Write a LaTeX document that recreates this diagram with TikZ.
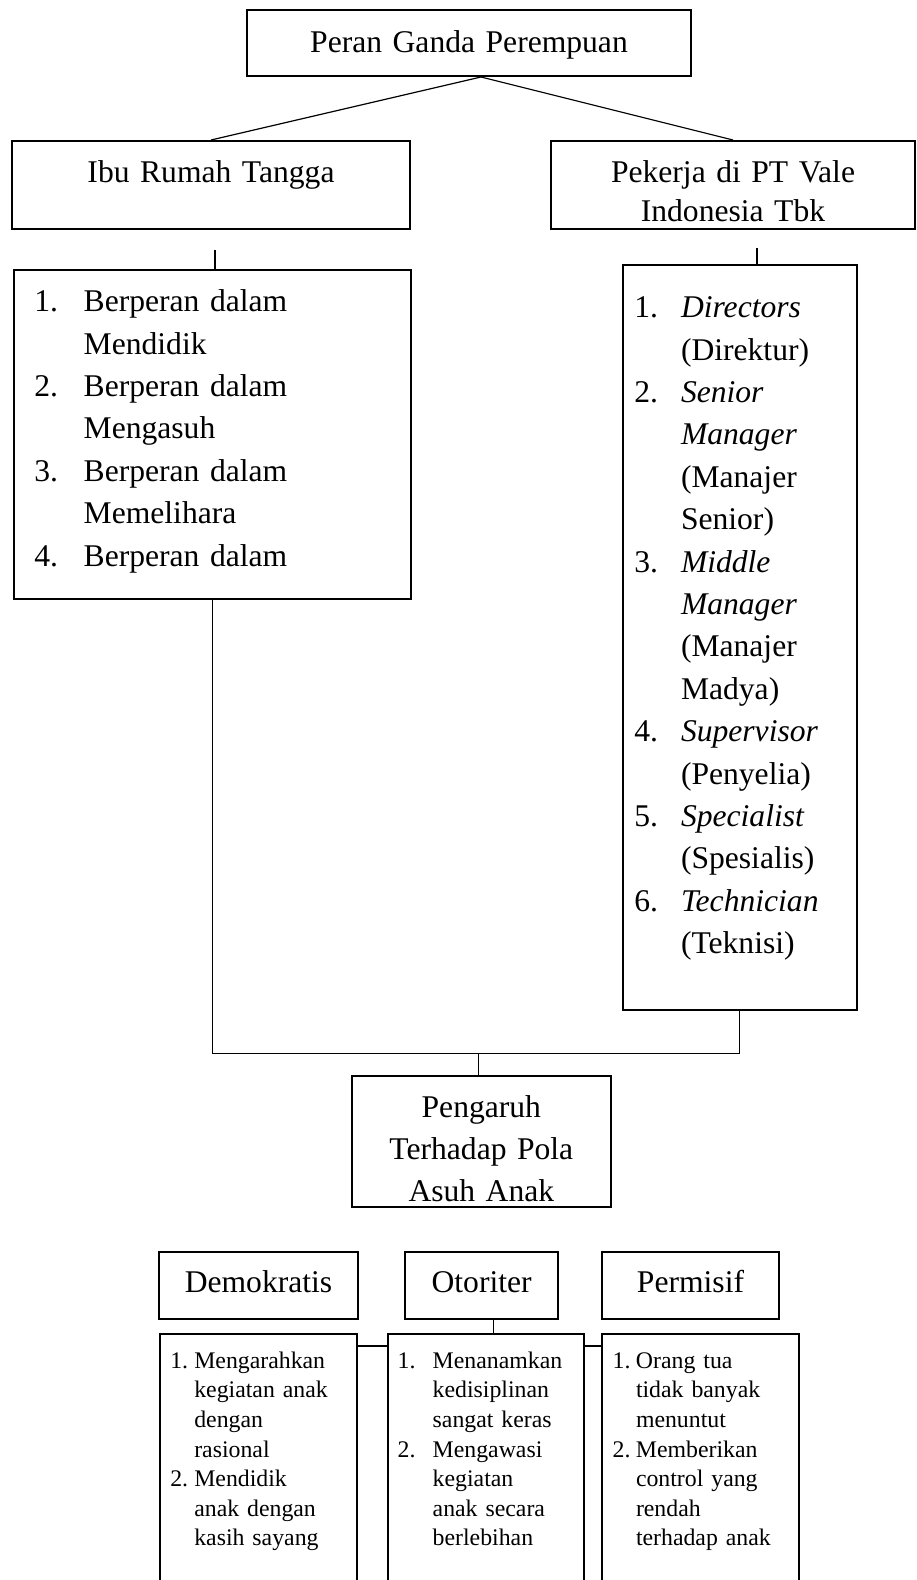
\documentclass[tikz,border=0pt]{standalone}
\usepackage{fontspec}
\setmainfont{Liberation Serif}
\newlength{\numw}
\newcommand{\itemnr}[1]{\makebox[\numw][l]{#1}}

\begin{document}
\begin{tikzpicture}[x=0.5pt, y=-0.5pt,
        box/.style={draw, line width=1pt, inner sep=0pt, anchor=north west,
            font=\fontsize{15.8}{21.2}\selectfont},
        headbox/.style={box, align=center},
        listbox/.style={box, align=left},
        smallbox/.style={listbox, font=\fontsize{11.9}{14.8}\selectfont},
        conn/.style={line width=0.6pt}]
        \useasboundingbox (0,0) rectangle (916,1580);
        \clip (0,0) rectangle (916,1580);

        % Top
        \node[headbox, text width=222pt, text height=21.2pt, text depth=11.65pt] (peran) at (246,9.3) {Peran Ganda Perempuan};

        % Roles
        \node[headbox, text width=199.3pt, text height=20.85pt, text depth=23.3pt] (ibu) at (10.7,140) {Ibu Rumah Tangga};
        \node[headbox, text width=182pt, text height=20.85pt, text depth=23.3pt,
            font=\fontsize{15.8}{19.15}\selectfont] (kerja) at (550,140) {Pekerja di PT Vale\\Indonesia Tbk};

        % Lists of roles
        \node[listbox, inner xsep=10.3pt, text width=178pt, text height=20.85pt, text depth=143.5pt] (irt) at (12.7,269) {%
            \setlength{\numw}{24.7pt}\itemnr{1.}Berperan dalam\\
            \itemnr{}Mendidik\\
            \itemnr{2.}Berperan dalam\\
            \itemnr{}Mengasuh\\
            \itemnr{3.}Berperan dalam\\
            \itemnr{}Memelihara\\
            \itemnr{4.}Berperan dalam};
        \node[listbox, inner xsep=5.8pt, text width=105.55pt, text height=26.2pt, text depth=346.3pt] (vale) at (621.7,264.3) {%
            \setlength{\numw}{23.35pt}\itemnr{1.}\textit{Directors}\\
            \itemnr{}(Direktur)\\
            \itemnr{2.}\textit{Senior}\\
            \itemnr{}\textit{Manager}\\
            \itemnr{}(Manajer\\
            \itemnr{}Senior)\\
            \itemnr{3.}\textit{Middle}\\
            \itemnr{}\textit{Manager}\\
            \itemnr{}(Manajer\\
            \itemnr{}Madya)\\
            \itemnr{4.}\textit{Supervisor}\\
            \itemnr{}(Penyelia)\\
            \itemnr{5.}\textit{Specialist}\\
            \itemnr{}(Spesialis)\\
            \itemnr{6.}\textit{Technician}\\
            \itemnr{}(Teknisi)};

        % Effect
        \node[headbox, text width=129.65pt, text height=20.85pt, text depth=44.5pt,
            font=\fontsize{15.8}{21}\selectfont] (pengaruh) at (350.7,1075) {Pengaruh\\Terhadap Pola\\Asuh Anak};

        % Parenting styles
        \node[headbox, text width=99.2pt, text height=20.5pt, text depth=13.3pt] (demo) at (158.3,1250.7) {Demokratis};
        \node[headbox, text width=76.65pt, text height=20.5pt, text depth=13.3pt] (oto) at (404,1250.7) {Otoriter};
        \node[headbox, text width=88.8pt, text height=20.5pt, text depth=13.3pt] (perm) at (600.7,1250.7) {Permisif};

        \node[smallbox, inner xsep=5pt, text width=88.35pt, text height=17.3pt, text depth=125pt] (demoList) at (159.3,1332.7) {%
            \setlength{\numw}{12pt}\itemnr{1.}Mengarahkan\\
            \itemnr{}kegiatan anak\\
            \itemnr{}dengan\\
            \itemnr{}rasional\\
            \itemnr{2.}Mendidik\\
            \itemnr{}anak dengan\\
            \itemnr{}kasih sayang};
        \node[smallbox, inner xsep=5pt, text width=88.3pt, text height=17.3pt, text depth=125pt] (otoList) at (386.7,1332.7) {%
            \setlength{\numw}{17.5pt}\itemnr{1.}Menanamkan\\
            \itemnr{}kedisiplinan\\
            \itemnr{}sangat keras\\
            \itemnr{2.}Mengawasi\\
            \itemnr{}kegiatan\\
            \itemnr{}anak secara\\
            \itemnr{}berlebihan};
        \node[smallbox, inner xsep=5.35pt, text width=87.95pt, text height=17.3pt, text depth=125pt] (permList) at (601,1332.7) {%
            \setlength{\numw}{11.65pt}\itemnr{1.}Orang tua\\
            \itemnr{}tidak banyak\\
            \itemnr{}menuntut\\
            \itemnr{2.}Memberikan\\
            \itemnr{}control yang\\
            \itemnr{}rendah\\
            \itemnr{}terhadap anak};

        % Connections
        \draw[conn] ([xshift=6pt]peran.south) -- (ibu.north);
        \draw[conn] ([xshift=6pt]peran.south) -- (kerja.north);
        \coordinate (irtTop) at (215,250);
        \coordinate (valeTop) at (757,248);
        \draw[conn] (irtTop) -- (irtTop |- irt.north);
        \draw[conn] (valeTop) -- (valeTop |- vale.north);
        \coordinate (join) at (478.3,1053.3);
        \draw[conn] (irt.south) |- (join) -| (vale.south);
        \draw[conn] (join) -- (join |- pengaruh.north);
        \coordinate (otoDrop) at ([xshift=5.8pt]oto.south);
        \draw[conn] (otoDrop) -- (otoDrop |- otoList.north);
        \draw[conn] ([yshift=-6.65pt]demoList.north east) -- ([yshift=-6.65pt]otoList.north west);
        \draw[conn] ([yshift=-6.65pt]otoList.north east) -- ([yshift=-6.65pt]permList.north west);
    \end{tikzpicture}
\end{document}
